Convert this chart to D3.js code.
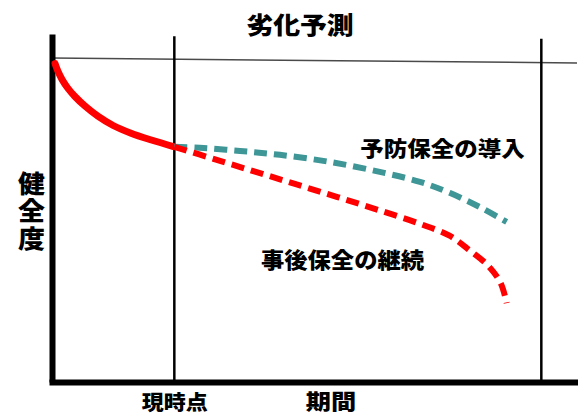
<!DOCTYPE html>
<html lang="ja">
<head>
<meta charset="utf-8">
<script src="https://cdn.jsdelivr.net/npm/d3@7"></script>
<style>
  html, body { margin: 0; padding: 0; background: #fff; }
  svg { display: block; }
  text { font-family: "Noto Sans CJK JP", "Noto Sans CJK SC", sans-serif; font-weight: 900; fill: #000; }
</style>
</head>
<body>
<svg id="chart" width="578" height="416"></svg>
<script>
// 期間 (x) と 健全度 (y) — 任意単位
const pastPeriod   = [0.6, 1.2, 2.0, 3.0, 4.5, 6.5, 9.0, 12.0, 15.5, 19.5, 24];
const pastHealth   = [98.8, 96.3, 93.8, 91.4, 88.6, 85.6, 82.5, 79.6, 77.2, 75.1, 73.0];

const preventivePeriod = [24, 29.0, 36.9, 44.7, 54.5, 64.3, 72.2, 78.0, 83.9, 89.2];
const preventiveHealth = [73.0, 72.7, 71.7, 70.5, 68.3, 65.2, 62.1, 58.7, 54.3, 49.7];

const correctivePeriod = [24, 32, 40, 48, 56, 64, 72, 78, 82, 85.5, 88, 89.2];
const correctiveHealth = [73.0, 69.1, 65.2, 61.3, 57.4, 53.4, 49.2, 45.4, 40.8, 36.2, 30.8, 24.5];

// 初期健全度の基準線
const baselinePeriod = [0, 103];
const baselineHealth = [100.55, 99.0];

// 縦の区切り線: 現時点 と 予測期間の終わり
const markerPeriod = [24, 96];
const markerTop    = [107.3, 106.5];

const nowLabel      = "現時点";
const titleText     = "劣化予測";
const yTitle        = "健全度";
const xTitle        = "期間";
const preventiveLbl = "予防保全の導入";
const correctiveLbl = "事後保全の継続";

const svg = d3.select("#chart");

const x = d3.scaleLinear().domain([0, 103]).range([52, 577]);
const y = d3.scaleLinear().domain([0, 108]).range([382, 34]);

const pts = (xs, ys) => xs.map((v, i) => [v, ys[i]]);
const line = d3.line().x(d => x(d[0])).y(d => y(d[1])).curve(d3.curveCatmullRom.alpha(0.5));

// 基準線
svg.append("path")
  .attr("d", d3.line().x(d => x(d[0])).y(d => y(d[1]))(pts(baselinePeriod, baselineHealth)))
  .attr("fill", "none").attr("stroke", "#4a4a4a").attr("stroke-width", 1.5);

// 区切り線
svg.selectAll("line.marker")
  .data(markerPeriod.map((p, i) => ({ p, top: markerTop[i] })))
  .join("line")
  .attr("class", "marker")
  .attr("x1", d => x(d.p)).attr("x2", d => x(d.p))
  .attr("y1", d => y(d.top)).attr("y2", y(0))
  .attr("stroke", "#000").attr("stroke-width", 2.5);

// 軸
const xAxis = svg.append("g")
  .attr("transform", `translate(0,${y(0)})`)
  .call(d3.axisBottom(x).tickValues([markerPeriod[0]]).tickFormat(() => nowLabel).tickSize(0).tickSizeOuter(0));
xAxis.select(".domain").attr("stroke", "#000").attr("stroke-width", 6).attr("stroke-linecap", "square");
xAxis.selectAll(".tick text")
  .attr("y", 0).attr("dy", null)
  .attr("dominant-baseline", "central")
  .attr("transform", "translate(0,19) scale(1.1,1)")
  .style("font-family", "'Noto Sans CJK JP', sans-serif")
  .style("font-weight", 900)
  .style("font-size", "20px")
  .attr("fill", "#000");

const yAxis = svg.append("g")
  .attr("transform", `translate(${x(0)},0)`)
  .call(d3.axisLeft(y).tickValues([]).tickSizeOuter(0));
yAxis.select(".domain").attr("stroke", "#000").attr("stroke-width", 6);

// 劣化曲線
svg.append("path")
  .attr("d", line(pts(pastPeriod, pastHealth)))
  .attr("fill", "none").attr("stroke", "#ff0000").attr("stroke-width", 7)
  .attr("stroke-linecap", "round");

svg.append("path")
  .attr("d", line(pts(preventivePeriod, preventiveHealth)))
  .attr("fill", "none").attr("stroke", "#3e9696").attr("stroke-width", 6)
  .attr("stroke-dasharray", "13 7");

svg.append("path")
  .attr("d", line(pts(correctivePeriod, correctiveHealth)))
  .attr("fill", "none").attr("stroke", "#ff0000").attr("stroke-width", 6)
  .attr("stroke-dasharray", "13 7");

// テキスト
function label(txt, cx, cy, size, sx) {
  svg.append("text")
    .attr("transform", `translate(${cx},${cy}) scale(${sx},1)`)
    .attr("text-anchor", "middle")
    .attr("dominant-baseline", "central")
    .style("font-size", size + "px")
    .text(txt);
}

label(titleText, 300, 23, 24, 1.12);
label(xTitle, 331, 400, 21, 1.2);
label(preventiveLbl, 442.5, 147, 21, 1.12);
label(correctiveLbl, 342.5, 258.5, 22, 1.06);

// 縦書きの軸タイトル
svg.append("text")
  .attr("transform", "translate(31.5,212) scale(1.08,1)")
  .attr("text-anchor", "middle")
  .style("writing-mode", "vertical-rl")
  .style("letter-spacing", "2.5px")
  .style("font-size", "25px")
  .text(yTitle);
</script>
</body>
</html>
